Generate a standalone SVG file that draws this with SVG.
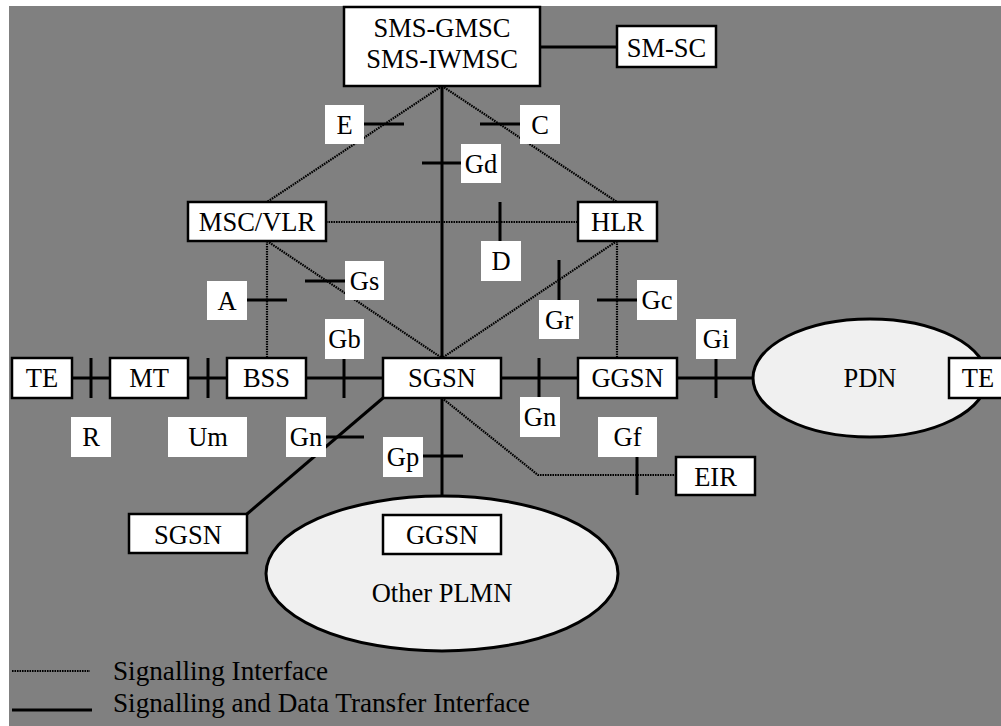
<svg xmlns="http://www.w3.org/2000/svg" width="1001" height="726" viewBox="0 0 1001 726">
<style>
text{font-family:"Liberation Serif","Times New Roman",serif;font-size:26.5px;fill:#000;text-anchor:middle}
.box{fill:#fff;stroke:#000;stroke-width:2.5}
.lbl{fill:#fff;stroke:none}
.solid{stroke:#000;stroke-width:3;fill:none}
.dot{stroke:#000;stroke-width:2.2;fill:none;stroke-dasharray:1.6 0.9}
.tick{stroke:#000;stroke-width:3}
.cloud{fill:#f0f0f0;stroke:#000;stroke-width:3}
.leg{text-anchor:start;font-size:27.2px}
</style>
<rect x="0" y="0" width="1001" height="726" fill="#fff"/>
<rect x="9" y="6" width="992" height="720" fill="#808080"/>

<g id="connectors">
<line class="solid" x1="442" y1="86" x2="442" y2="358"/>
<line class="solid" x1="540" y1="47" x2="617" y2="47"/>
<line class="solid" x1="72" y1="378" x2="110" y2="378"/>
<line class="solid" x1="188" y1="378" x2="227" y2="378"/>
<line class="solid" x1="306" y1="378" x2="383" y2="378"/>
<line class="solid" x1="501" y1="378" x2="578" y2="378"/>
<line class="solid" x1="677" y1="378" x2="753" y2="378"/>
<line class="solid" x1="383" y1="398" x2="247" y2="514"/>
<line class="solid" x1="442" y1="398" x2="442" y2="496"/>
<line class="dot" x1="442" y1="86" x2="267" y2="202"/>
<line class="dot" x1="442" y1="86" x2="617" y2="202"/>
<line class="dot" x1="326" y1="222" x2="578" y2="222"/>
<line class="dot" x1="267" y1="241" x2="267" y2="358"/>
<line class="dot" x1="267" y1="241" x2="442" y2="358"/>
<line class="dot" x1="617" y1="241" x2="442" y2="358"/>
<line class="dot" x1="617" y1="241" x2="617" y2="358"/>
<polyline class="dot" points="442,398 538,475 676,475"/>
</g>

<g id="ticks">
<line class="tick" x1="364" y1="124" x2="404" y2="124"/>
<line class="tick" x1="480" y1="124" x2="520" y2="124"/>
<line class="tick" x1="422" y1="163" x2="461" y2="163"/>
<line class="tick" x1="500" y1="202" x2="500" y2="241"/>
<line class="tick" x1="247" y1="300" x2="287" y2="300"/>
<line class="tick" x1="305" y1="281" x2="345" y2="281"/>
<line class="tick" x1="344" y1="358" x2="344" y2="398"/>
<line class="tick" x1="91" y1="358" x2="91" y2="398"/>
<line class="tick" x1="208" y1="358" x2="208" y2="398"/>
<line class="tick" x1="326" y1="437" x2="364" y2="437"/>
<line class="tick" x1="423" y1="456" x2="463" y2="456"/>
<line class="tick" x1="539" y1="358" x2="539" y2="398"/>
<line class="tick" x1="559" y1="260" x2="559" y2="300"/>
<line class="tick" x1="597" y1="300" x2="637" y2="300"/>
<line class="tick" x1="716" y1="358" x2="716" y2="398"/>
<line class="tick" x1="637" y1="457" x2="637" y2="495"/>
</g>

<g id="labels">
<g id="lbl-E"><rect class="lbl" x="325" y="105" width="39" height="39"/><text x="344.5" y="134">E</text></g>
<g id="lbl-C"><rect class="lbl" x="520" y="105" width="40" height="39"/><text x="540" y="134">C</text></g>
<g id="lbl-Gd"><rect class="lbl" x="461" y="144" width="40" height="39"/><text x="481" y="173">Gd</text></g>
<g id="lbl-D"><rect class="lbl" x="481" y="241" width="40" height="40"/><text x="501" y="270">D</text></g>
<g id="lbl-A"><rect class="lbl" x="207" y="281" width="40" height="39"/><text x="227" y="310">A</text></g>
<g id="lbl-Gs"><rect class="lbl" x="345" y="261" width="39" height="39"/><text x="364.5" y="290">Gs</text></g>
<g id="lbl-Gb"><rect class="lbl" x="325" y="319" width="39" height="40"/><text x="344.5" y="348">Gb</text></g>
<g id="lbl-Gr"><rect class="lbl" x="539" y="300" width="40" height="39"/><text x="559" y="329">Gr</text></g>
<g id="lbl-Gc"><rect class="lbl" x="637" y="280" width="40" height="40"/><text x="657" y="309">Gc</text></g>
<g id="lbl-Gi"><rect class="lbl" x="696" y="319" width="40" height="40"/><text x="716" y="348">Gi</text></g>
<g id="lbl-R"><rect class="lbl" x="71" y="417" width="40" height="40"/><text x="91" y="446">R</text></g>
<g id="lbl-Um"><rect class="lbl" x="168" y="417" width="79" height="40"/><text x="208" y="446">Um</text></g>
<g id="lbl-Gn1"><rect class="lbl" x="286" y="417" width="40" height="40"/><text x="306" y="446">Gn</text></g>
<g id="lbl-Gn2"><rect class="lbl" x="520" y="397" width="40" height="40"/><text x="540" y="426">Gn</text></g>
<g id="lbl-Gp"><rect class="lbl" x="383" y="437" width="40" height="40"/><text x="403" y="466">Gp</text></g>
<g id="lbl-Gf"><rect class="lbl" x="598" y="417" width="59" height="40"/><text x="627.5" y="446">Gf</text></g>
</g>

<g id="pdn"><ellipse class="cloud" cx="870" cy="378" rx="117" ry="59"/><text x="870" y="387">PDN</text></g>
<g id="other-plmn"><ellipse class="cloud" cx="442" cy="573.5" rx="176" ry="77.5"/><text x="442" y="602">Other PLMN</text></g>

<g id="sms"><rect class="box" x="344" y="7" width="196" height="79"/><text x="442" y="37">SMS-GMSC</text><text x="442" y="68">SMS-IWMSC</text></g>
<g id="smsc"><rect class="box" x="617" y="26" width="99" height="41"/><text x="666.5" y="57">SM-SC</text></g>
<g id="msc"><rect class="box" x="188" y="202" width="138" height="39"/><text x="257" y="231">MSC/VLR</text></g>
<g id="hlr"><rect class="box" x="578" y="202" width="79" height="39"/><text x="617.5" y="231">HLR</text></g>
<g id="te1"><rect class="box" x="12" y="358" width="60" height="40"/><text x="42" y="387">TE</text></g>
<g id="mt"><rect class="box" x="110" y="358" width="78" height="40"/><text x="149" y="387">MT</text></g>
<g id="bss"><rect class="box" x="227" y="358" width="79" height="40"/><text x="266.5" y="387">BSS</text></g>
<g id="sgsn"><rect class="box" x="383" y="358" width="118" height="40"/><text x="442" y="387">SGSN</text></g>
<g id="ggsn"><rect class="box" x="578" y="358" width="99" height="40"/><text x="627.5" y="387">GGSN</text></g>
<g id="te2"><rect class="box" x="949" y="358" width="62" height="40"/><text x="978" y="387">TE</text></g>
<g id="eir"><rect class="box" x="676" y="457" width="79" height="38"/><text x="715.5" y="486">EIR</text></g>
<g id="sgsn2"><rect class="box" x="129" y="514" width="118" height="39"/><text x="188" y="544">SGSN</text></g>
<g id="ggsn2"><rect class="box" x="383" y="515" width="118" height="39"/><text x="442" y="544">GGSN</text></g>

<g id="legend">
<line class="dot" x1="12" y1="671" x2="90" y2="671"/>
<line class="solid" x1="12" y1="710" x2="92" y2="710"/>
<text class="leg" x="113" y="680">Signalling Interface</text>
<text class="leg" x="113" y="712">Signalling and Data Transfer Interface</text>
</g>
</svg>
